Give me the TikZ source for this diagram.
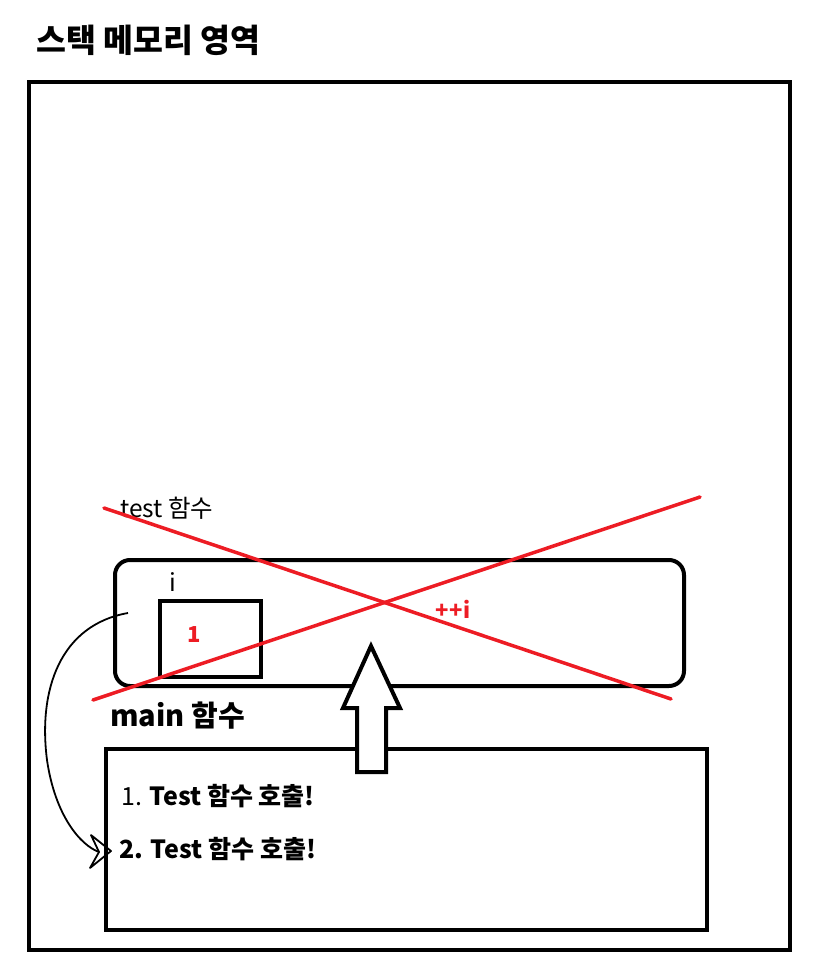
\documentclass[tikz,border=0pt]{standalone}
\usepackage{fontspec}
\setmainfont{Noto Sans CJK KR}
\usetikzlibrary{arrows.meta,positioning}
\definecolor{paintred}{HTML}{ED1C24}

\begin{document}
\begin{tikzpicture}[
  x=1pt, y=-1pt,
  frame/.style={draw=black, line width=3.5pt},
  fnbox/.style={draw=black, line width=4pt, rounded corners=15pt},
  cross/.style={draw=paintred, line width=3.5pt, line cap=round},
  lbl/.style={inner sep=0pt, anchor=base west},
  ar/.style={line width=1.8pt, line join=round}
]
\useasboundingbox (0,0) rectangle (812,977);

\node[lbl, font=\fontsize{32.5}{36}\selectfont\bfseries] (title) at (36,52) {스택 메모리 영역};
\draw[frame] (29,82) rectangle (790,950);

% test function frame
\draw[fnbox] (115,560) rectangle (684,686);
\node[lbl, font=\fontsize{24.5}{28}\selectfont] (tname) at (120,517) {test 함수};
\node[lbl, font=\fontsize{24.5}{28}\selectfont] (ivar) at (169,591) {i};
\draw[frame, line width=4pt] (160,601) rectangle (261,677);
\node[lbl, font=\fontsize{22}{26}\selectfont\bfseries, text=paintred] (ival) at (187,642) {1};
\node[lbl, font=\fontsize{22}{26}\selectfont\bfseries, text=paintred] (inc) at (435,618) {+\kern1pt+\kern1pt i};

% main function frame
\node[lbl, font=\fontsize{29}{32}\selectfont\bfseries] (mname) at (110,726) {main 함수};
\draw[frame] (106,749) rectangle (707,930);
\node[lbl, font=\fontsize{25}{28}\selectfont] (call1) at (121,805) {1. \textbf{Test 함수 호출!}};
\node[lbl, font=\fontsize{25}{28}\selectfont\bfseries] (call2) at (119,858) {2. Test 함수 호출!};

% return arrow
\draw[line width=4pt, fill=white, line join=miter]
  (357,772) -- (357,708) -- (343,708) -- (371,646) -- (400,708)
  -- (386,708) -- (386,772) -- cycle;

% crossed out
\draw[cross] (104,508) -- (671,699);
\draw[cross] (93,700) -- (700,497);

% call again
\coordinate (from) at (128,613);
\coordinate (tip) at (111,851);
\coordinate (notch) at (99,852);
\draw[ar] (from) .. controls (60,625) and (38,690) .. (47,760)
  .. controls (55,815) and (80,845) .. (notch);
\draw[ar] (tip) -- (91,835) -- (notch) -- (90,868) -- cycle;
\end{tikzpicture}
\end{document}
